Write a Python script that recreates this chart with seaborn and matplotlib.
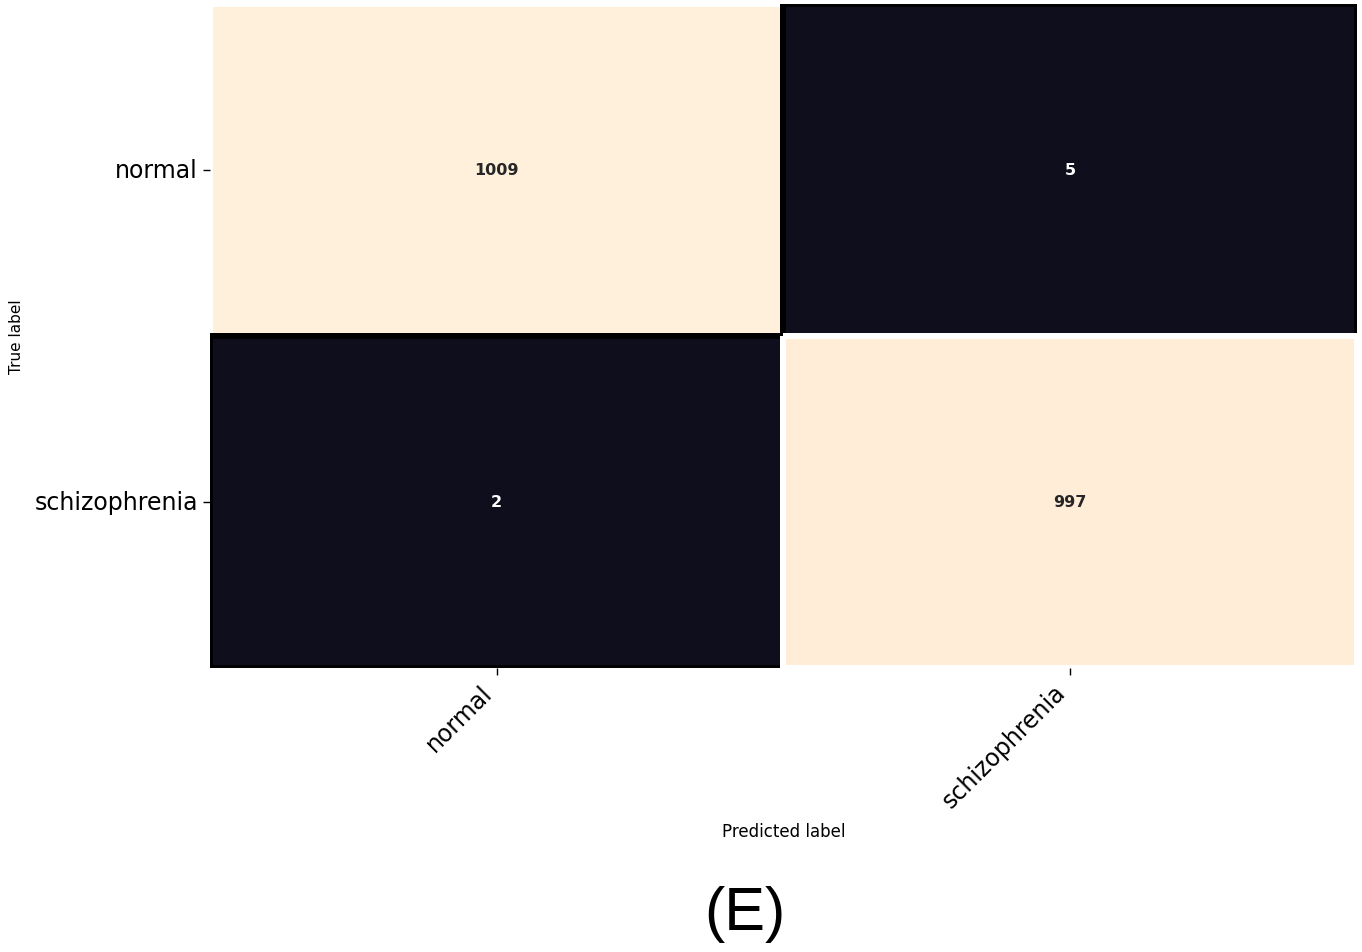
import numpy as np
import pandas as pd
import matplotlib
matplotlib.use("Agg")
import matplotlib.pyplot as plt
import seaborn as sns

classes = ["normal", "schizophrenia"]
row_normal = [1009, 5]
row_schizo = [2, 997]

cm = pd.DataFrame([row_normal, row_schizo], index=classes, columns=classes)

cmap = sns.blend_palette(["#0E0E1D", "#5A1E4A", "#E0483E", "#F9B78F", "#FFF0DC"], as_cmap=True)

fig = plt.figure(figsize=(13.62, 9.53), dpi=100)
ax = fig.add_axes([0.154, 0.298, 0.8423, 0.6968])
sns.heatmap(cm, annot=True, fmt="d", cmap=cmap, cbar=False, ax=ax,
            linewidths=3, linecolor="white",
            annot_kws={"fontsize": 11.5, "fontweight": "bold"})

mesh = ax.collections[0]
vals = cm.values.ravel()
edge = ["white" if v > 500 else "black" for v in vals]
mesh.set_edgecolors(edge)
mesh.set_linewidths(3)

ax.set_xticklabels(classes, rotation=45, ha="right", fontsize=17)
ax.set_yticklabels(classes, rotation=0, fontsize=17)
ax.tick_params(axis="both", length=5, width=1)
ax.set_xlabel("Predicted label", fontsize=12)
ax.set_ylabel("True label", fontsize=11)
ax.xaxis.set_label_coords(0.5, -0.232)
ax.yaxis.set_label_coords(-0.162, 0.5)

fig.text(0.547, 0.04, "(E)", ha="center", va="center", fontsize=44,
         family="Liberation Sans")

fig.savefig("out.png", dpi=100)
